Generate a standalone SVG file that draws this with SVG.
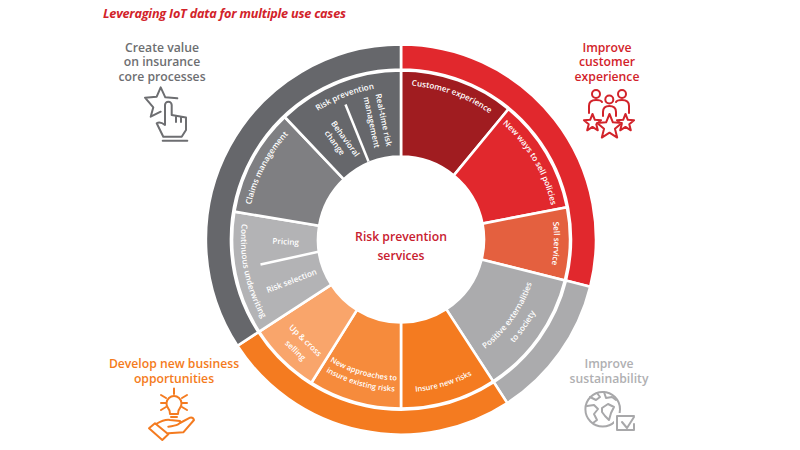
<svg xmlns="http://www.w3.org/2000/svg" xmlns:xlink="http://www.w3.org/1999/xlink" width="800" height="450" viewBox="0 0 800 450">
<style>
text{font-family:"Open Sans","Noto Sans","Liberation Sans",sans-serif}
.seg{stroke:#fff;stroke-width:2.6}
.w{fill:#fff;font-size:8.1px;font-weight:600;text-anchor:middle}
.s{font-size:7.5px}
.h{font-size:12.2px;font-weight:600;text-anchor:middle}
.ic{fill:none;stroke-width:2;stroke-linejoin:round;stroke-linecap:round}
.div{stroke:#fff;stroke-width:2.5;fill:none}
</style>
<defs>
<polygon id="star" points="0,-10 2.6,-3.6 9.5,-3.1 4.2,1.4 5.9,8.1 0,4.4 -5.9,8.1 -4.2,1.4 -9.5,-3.1 -2.6,-3.6" vector-effect="non-scaling-stroke"/>
<path id="tCust" d="M400.5,86A154,154 0 0 1 497.4,120.3"/>
<path id="tNew" d="M498.4,121.1A154,154 0 0 1 551.7,210.6"/>
<path id="tSell" d="M550.7,210.8A153,153 0 0 1 548.9,277"/>
<path id="tClaims" d="M248.7,214.6A154,154 0 0 1 294.5,128.3"/>
<path id="tRisk" d="M296.1,128.2A153,153 0 0 1 400.5,87"/>
<path id="tCont" d="M242.5,215A160,160 0 0 0 266.3,327.1"/>
<path id="tIns" d="M400.5,393A153,153 0 0 0 483.9,368.3"/>
<path id="tApp1" d="M325.8,359.6A141,141 0 0 0 400.5,381"/>
<path id="tApp2" d="M319.9,368.9A152,152 0 0 0 400.5,392"/>
<path id="tPos1" d="M475.7,355.8A138,138 0 0 0 534.4,273.4"/>
<path id="tPos2" d="M483.9,368.4A153,153 0 0 0 548.9,277"/>
</defs>
<rect width="800" height="450" fill="#fff"/>
<text x="103" y="18" font-size="12.7" font-style="italic" font-weight="700" fill="#d2232a" textLength="243">Leveraging IoT data for multiple use cases</text>

<g transform="translate(.5,-.5)">
<g id="outer-ring">
<path class="seg" fill="#e1282d" d="M400.5,45A195,195 0 0 1 589.7,287.2L565.4,281.1A170,170 0 0 0 400.5,70Z"/>
<path class="seg" fill="#ababad" d="M589.7,287.2A195,195 0 0 1 506.8,403.6L493.2,382.6A170,170 0 0 0 565.4,281.1Z"/>
<path class="seg" fill="#f47b20" d="M506.8,403.6A195,195 0 0 1 236.9,346.3L257.9,332.6A170,170 0 0 0 493.2,382.6Z"/>
<path class="seg" fill="#66676b" d="M236.9,346.3A195,195 0 0 1 400.5,45L400.5,70A170,170 0 0 0 257.9,332.6Z"/>
</g>

<g id="customer-experience">
<path class="seg" fill="#a01c20" d="M400.5,157L400.5,71A169,169 0 0 1 508,109.5L453.3,175.9A83,83 0 0 0 400.5,157Z"/>
<text class="w"><textPath href="#tCust" startOffset="50%">Customer experience</textPath></text>
</g>
<g id="new-ways">
<path class="seg" fill="#e1282d" d="M453.3,175.9L508,109.5A169,169 0 0 1 566.5,207.7L482,224.1A83,83 0 0 0 453.3,175.9Z"/>
<text class="w"><textPath href="#tNew" startOffset="50%">New ways to sell policies</textPath></text>
</g>
<g id="sell-service">
<path class="seg" fill="#e4603f" d="M482,224.1L566.5,207.7A169,169 0 0 1 564.4,280.9L481,260.1A83,83 0 0 0 482,224.1Z"/>
<text class="w"><textPath href="#tSell" startOffset="50%">Sell service</textPath></text>
</g>
<g id="positive-externalities">
<path class="seg" fill="#ababad" d="M481,260.1L564.4,280.9A169,169 0 0 1 492.6,381.8L445.7,309.6A83,83 0 0 0 481,260.1Z"/>
<text class="w"><textPath href="#tPos1" startOffset="50%">Positive externalities</textPath></text>
<text class="w"><textPath href="#tPos2" startOffset="50%">to society</textPath></text>
</g>
<g id="insure-new-risks">
<path class="seg" fill="#f47b20" d="M445.7,309.6L492.6,381.8A169,169 0 0 1 400.5,409L400.5,323A83,83 0 0 0 445.7,309.6Z"/>
<text class="w s"><textPath href="#tIns" startOffset="50%">Insure new risks</textPath></text>
</g>
<g id="new-approaches">
<path class="seg" fill="#f68b3c" d="M400.5,323L400.5,409A169,169 0 0 1 310.9,383.3L356.5,310.4A83,83 0 0 0 400.5,323Z"/>
<text class="w s"><textPath href="#tApp1" startOffset="50%">New approaches to</textPath></text>
<text class="w s"><textPath href="#tApp2" startOffset="50%">insure existing risks</textPath></text>
</g>
<g id="up-cross">
<path class="seg" fill="#f9a56b" d="M356.5,310.4L310.9,383.3A169,169 0 0 1 258.7,332.1L330.9,285.2A83,83 0 0 0 356.5,310.4Z"/>
<text class="w" transform="translate(303,343) rotate(44)">Up &amp; cross</text>
<text class="w" transform="translate(293,353) rotate(44)">selling</text>
</g>
<g id="underwriting">
<path class="seg" fill="#b3b3b5" d="M330.9,285.2L258.7,332.1A169,169 0 0 1 233.9,212.1L318.7,226.3A83,83 0 0 0 330.9,285.2Z"/>
<path class="div" d="M260,265L319,252"/>
<text class="w"><textPath href="#tCont" startOffset="50%">Continuous underwriting</textPath></text>
<text class="w" transform="translate(285,245) rotate(3)">Pricing</text>
<text class="w" transform="translate(292,284) rotate(-21)">Risk selection</text>
</g>
<g id="claims-management">
<path class="seg" fill="#7f7f82" d="M318.7,226.3L233.9,212.1A169,169 0 0 1 284.2,117.5L343.4,179.8A83,83 0 0 0 318.7,226.3Z"/>
<text class="w"><textPath href="#tClaims" startOffset="50%">Claims management</textPath></text>
</g>
<g id="risk-prevention">
<path class="seg" fill="#66676b" d="M343.4,179.8L284.2,117.5A169,169 0 0 1 400.5,71L400.5,157A83,83 0 0 0 343.4,179.8Z"/>
<path class="div" d="M345,105L368,162"/>
<text class="w"><textPath href="#tRisk" startOffset="50%">Risk prevention</textPath></text>
<text class="w" transform="translate(342.5,141) rotate(54)">Behavioral</text>
<text class="w" transform="translate(332,145) rotate(54)">change</text>
<text class="w" transform="translate(380.5,121) rotate(78)">Real-time risk</text>
<text class="w" transform="translate(368.5,123.5) rotate(78)">management</text>
</g>
</g>
<g id="center">
<text class="h" x="401" y="241" fill="#c8202f">Risk prevention</text>
<text class="h" x="401" y="260" fill="#c8202f">services</text>
</g>

<g id="create-value">
<text class="h" x="162" y="52" fill="#6d6e71">Create value</text>
<text class="h" x="162" y="66" fill="#6d6e71">on insurance</text>
<text class="h" x="162" y="81" fill="#6d6e71">core processes</text>
<path class="ic" stroke="#6d6e71" d="M156.7,96.7L160.7,87.3L165.3,97.3L177.3,98.3M156.7,96.7L145,97.7L153.3,107.3L150.7,116.7L160.7,111.7"/>
<path class="ic" stroke="#6d6e71" d="M165,125L165,105A3.3,3.3 0 0 1 171.7,105L171.7,115L186,117.5L186,130L181.7,136.7L163.3,136.7L156.7,123.3Q160,121 165,125ZM162.7,140.7L187.3,140.7M176,116L176,122M181,117L181,122"/>
</g>
<g id="improve-customer">
<text class="h" x="607" y="52" fill="#d2232a">Improve</text>
<text class="h" x="607" y="66" fill="#d2232a">customer</text>
<text class="h" x="607" y="81" fill="#d2232a">experience</text>
<g class="ic" stroke="#d2232a">
<circle cx="596" cy="94" r="4"/><circle cx="609.3" cy="99.5" r="4"/><circle cx="622" cy="94" r="4"/>
<path d="M589,113L589,106Q589,100 596,100Q601,100 602,102M629,113L629,106Q629,100 622,100Q617,100 616,102M603,116L603,112Q603,106 609.3,106Q616,106 616,112L616,116"/>
<use href="#star" fill="#fff" transform="translate(592.5,123) scale(.9)"/>
<use href="#star" fill="#fff" transform="translate(625.5,123) scale(.9)"/>
<use href="#star" fill="#fff" transform="translate(609.5,127) scale(1.3)"/>
</g>
</g>
<g id="develop-business">
<text class="h" x="174" y="368" fill="#f47b20">Develop new business</text>
<text class="h" x="174" y="383" fill="#f47b20">opportunities</text>
<g class="ic" stroke="#f47b20" stroke-width="1.8">
<path d="M170,414Q170,410 168,408A7.5,7.5 0 1 1 180,408Q178,410 178,414ZM171,417L177,417"/>
<path d="M174,388.5L174,394M161,395L166,398M187,395L182,398M161,403L166,403M187,403L182,403M161,410L166,407M187,410L182,407"/>
<path d="M149,428.3L155,423.3L168.3,434.3L162.3,440Z"/>
<path d="M156,424Q165,419 170,420L180,421Q182,425 168.3,426.7M180,423L190,417.7Q193,417 194,420L183.3,432.3L168.3,433.3"/>
</g>
</g>
<g id="improve-sustainability">
<text class="h" x="609" y="368" fill="#b0b0b2" font-weight="500">Improve</text>
<text class="h" x="609" y="383" fill="#b0b0b2" font-weight="500">sustainability</text>
<g class="ic" stroke="#a8a8aa">
<circle cx="602.7" cy="409.3" r="17.3"/>
<path d="M590,397L596,400L600,397L597,393M587,406L594,405L598,409L594,414L597,420L593,423M604,392L606,398L612,397L616,400M602,408L608,404L614,407L611,413L609,420L605,416L602,412Z"/>
<path fill="#fff" stroke="none" d="M614,413H636V433H614Z"/>
<path d="M634,416L617,416L617,430L634,430L634,424M622,422L627,428L634,417"/>
</g>
</g>
</svg>
